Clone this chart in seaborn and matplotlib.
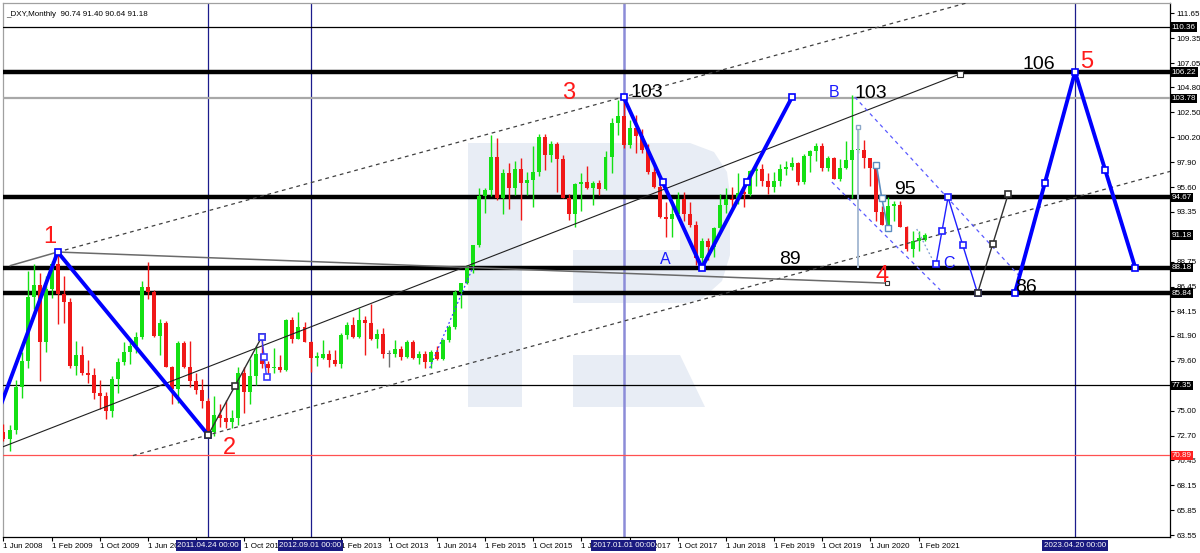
import numpy as np
import pandas as pd
import matplotlib
matplotlib.use("Agg")
import matplotlib.pyplot as plt
import matplotlib.transforms as mtransforms
from matplotlib.patches import Polygon
import seaborn as sns

sns.set_theme(style="white")
plt.rcParams["font.family"] = ["Liberation Sans", "DejaVu Sans"]

# monthly bars, Jun 2008 .. Mar 2021
months = pd.date_range("2008-06-01", "2021-03-01", freq="MS")
opens = [73.0, 72.4, 73.2, 77.2, 79.6, 85.5, 86.6, 81.3, 86.2, 88.5, 85.8, 85.0, 79.1, 80.1, 78.5, 78.3, 76.6, 76.4, 75.0,
         77.9, 79.5, 80.4, 81.0, 81.8, 86.4, 85.9, 81.9, 83.1, 79.0, 77.0, 81.2,
         79.0, 77.7, 76.9, 75.9, 73.0, 74.6, 74.3, 74.0, 74.3, 78.5, 76.7, 78.2,
         80.2, 79.3, 78.9, 79.0, 78.8, 83.4, 81.6, 82.7, 81.3, 79.9, 79.9, 80.2,
         79.7, 79.3, 82.0, 82.9, 81.8, 83.4, 83.1, 81.6, 82.1, 80.2, 80.2, 80.7,
         80.0, 81.3, 79.9, 80.2, 79.5, 80.4, 79.8, 81.5, 82.7, 85.9, 86.8, 88.3,
         90.3, 94.8, 95.3, 98.4, 94.6, 96.9, 95.5, 97.3, 96.0, 96.3, 97.0, 100.2,
         98.6, 99.6, 98.2, 94.6, 93.1, 95.9, 96.1, 95.5, 96.0, 95.4, 98.4, 101.5,
         102.2, 99.5, 101.1, 100.3, 99.0, 97.0, 95.6, 92.9, 92.7, 93.1, 94.5, 93.1,
         92.1, 89.1, 90.6, 90.1, 91.8, 94.0, 94.5, 94.4, 95.1, 95.0, 97.1, 97.3,
         96.2, 95.6, 96.2, 97.3, 97.5, 97.8, 96.1, 98.5, 98.9, 99.4, 97.4, 98.3,
         96.4, 97.4, 98.1, 99.0, 99.0, 98.3, 97.4, 93.3, 92.1, 93.9, 94.0, 91.9,
         89.9, 90.6, 90.74]
highs = [73.8, 73.7, 77.8, 80.4, 87.9, 88.5, 87.7, 87.4, 88.8, 89.6, 87.4, 85.4, 81.4, 81.0, 79.7, 78.9, 77.8, 76.7, 78.2,
         79.9, 81.3, 81.6, 82.3, 87.0, 88.7, 86.1, 83.5, 83.3, 79.1, 81.4, 81.4,
         81.4, 78.5, 77.9, 76.2, 76.4, 75.6, 76.0, 75.1, 79.0, 79.0, 79.8, 81.0,
         81.8, 79.6, 80.8, 80.1, 83.5, 83.6, 84.1, 83.2, 81.4, 80.4, 81.5, 80.6,
         80.6, 82.2, 83.2, 83.6, 84.5, 83.7, 84.8, 82.5, 82.6, 80.6, 81.5, 81.0,
         81.5, 81.5, 80.5, 80.5, 80.6, 81.0, 81.6, 82.9, 86.1, 86.8, 88.4, 90.3,
         95.5, 95.5, 100.4, 100.1, 97.3, 97.8, 98.0, 98.3, 97.0, 99.4, 100.5, 100.5,
         99.9, 99.8, 98.6, 95.0, 96.0, 96.9, 97.6, 96.2, 96.3, 98.9, 102.0, 103.6,
         103.9, 101.8, 102.3, 101.0, 99.6, 97.8, 96.2, 94.2, 94.0, 95.2, 95.2, 94.2,
         92.5, 90.9, 90.9, 91.9, 95.0, 95.5, 95.6, 96.9, 95.7, 97.2, 97.7, 97.7,
         96.9, 97.0, 97.7, 98.0, 98.4, 97.9, 98.7, 99.0, 99.7, 99.7, 98.5, 98.4,
         98.2, 99.9, 104.1, 100.9, 100.0, 98.3, 97.5, 93.9, 94.7, 94.3, 94.3, 92.0,
         91.6, 91.6, 91.40]
lows = [72.2, 71.3, 72.9, 76.2, 78.9, 84.4, 77.7, 80.4, 85.4, 83.0, 83.1, 78.9, 78.3, 78.3, 77.6, 76.1, 75.2, 74.2, 74.4,
        76.6, 79.2, 79.3, 80.3, 81.6, 85.3, 81.8, 80.1, 79.0, 75.6, 75.7, 78.9,
        77.2, 76.5, 75.3, 72.8, 72.7, 73.5, 73.4, 73.4, 73.7, 74.8, 75.6, 77.4,
        78.9, 78.1, 78.5, 78.6, 78.7, 81.2, 81.6, 81.3, 78.6, 79.1, 79.8, 79.0,
        79.1, 78.9, 81.6, 81.7, 81.7, 80.1, 81.5, 80.8, 79.9, 79.0, 80.0, 79.7,
        79.9, 79.8, 79.3, 78.9, 78.9, 79.7, 79.7, 81.3, 82.5, 84.5, 86.7, 87.7,
        90.1, 93.2, 94.8, 94.4, 93.1, 93.6, 94.9, 92.6, 94.9, 93.8, 96.6, 97.2,
        97.9, 95.2, 94.6, 92.6, 91.9, 93.4, 95.4, 94.0, 94.9, 95.3, 96.9, 100.4,
        99.2, 99.2, 98.8, 98.8, 96.8, 95.5, 92.8, 91.0, 91.0, 92.7, 92.5, 91.9,
        88.4, 88.2, 88.9, 89.2, 91.5, 93.2, 93.7, 94.1, 93.8, 94.8, 95.7, 95.7,
        95.0, 95.2, 95.7, 96.7, 97.2, 95.8, 95.9, 97.0, 98.0, 97.1, 97.1, 96.4,
        96.2, 97.3, 94.6, 98.8, 97.4, 95.7, 92.5, 92.1, 91.7, 92.5, 91.9, 89.7,
        89.2, 89.7, 90.64]
closes = [72.4, 73.2, 77.2, 79.6, 85.5, 86.6, 81.3, 86.2, 88.5, 85.8, 85.0, 79.1, 80.1, 78.5, 78.3, 76.6, 76.4, 75.0, 77.9,
          79.5, 80.4, 81.0, 81.8, 86.4, 85.9, 81.9, 83.1, 79.0, 77.0, 81.2, 79.0,
          77.7, 76.9, 75.9, 73.0, 74.6, 74.3, 74.0, 74.3, 78.5, 76.7, 78.2, 80.2,
          79.3, 78.9, 79.0, 78.8, 83.4, 81.6, 82.7, 81.3, 79.9, 79.95, 80.2, 79.7,
          79.3, 82.0, 82.9, 81.8, 83.4, 83.1, 81.6, 82.1, 80.2, 80.2, 80.7, 80.0,
          81.3, 79.9, 80.2, 79.5, 80.4, 79.8, 81.5, 82.7, 85.9, 86.8, 88.3, 90.3,
          94.8, 95.3, 98.4, 94.6, 96.9, 95.5, 97.3, 96.0, 96.3, 97.0, 100.2, 98.6,
          99.6, 98.2, 94.6, 93.1, 95.9, 96.1, 95.5, 96.0, 95.4, 98.4, 101.5, 102.2,
          99.5, 101.1, 100.3, 99.0, 97.0, 95.6, 92.9, 92.7, 93.1, 94.5, 93.1, 92.1,
          89.1, 90.6, 90.1, 91.8, 94.0, 94.5, 94.4, 95.1, 95.0, 97.1, 97.3, 96.2,
          95.6, 96.2, 97.3, 97.5, 97.8, 96.1, 98.5, 98.9, 99.4, 97.4, 98.3, 96.4,
          97.4, 98.1, 99.0, 99.05, 98.3, 97.4, 93.3, 92.1, 93.9, 94.0, 91.9, 89.9,
          90.6, 90.9, 91.18]

# horizontal levels
thick_levels = [106.22, 94.67, 88.18, 85.84]
thin_levels = [110.36, 77.35]
gray_level = 103.78
red_level = 70.89
box_levels = [110.36, 106.22, 103.78, 94.67, 91.18, 88.18, 85.84, 77.35]
y_ticks = [111.65, 109.35, 107.05, 104.80, 102.50, 100.20, 97.90, 95.60, 93.35, 91.05, 88.75,
           86.45, 84.15, 81.90, 79.60, 77.30, 75.00, 72.70, 70.45, 68.15, 65.85, 63.55]
hidden_ticks = [91.05, 77.30]

# vertical time lines
vline_labels = ["2011.04.24 00:00", "2012.09.01 00:00", "2017.01.01 00:00", "2023.04.20 00:00"]

# wave drawings (bar index, price)
wave1_m = [-0.6, 9, 34]
wave1_p = [75.3, 89.63, 72.77]
wave3_m = [103, 116, 131]
wave3_p = [103.92, 88.18, 103.92]
wave5_m = [168, 178, 188]
wave5_p = [85.84, 106.22, 88.18]
waveC_m = [154.9, 156.9, 161.8]
waveC_p = [88.5, 94.67, 85.84]
waveD_m = [161.8, 166.9]
waveD_p = [85.84, 94.98]
small_black_m = [34, 42.9]
small_black_p = [72.77, 81.8]
small_blue_m = [42.9, 43.7]
small_blue_p = [81.8, 78.1]
steel_m = [145.0, 145.9, 146.9]
steel_p = [97.65, 94.58, 91.82]
chan_solid_m = [-0.6, 158.9]
chan_solid_p = [71.57, 106.04]
line14_m = [1.1, 9, 146.7]
line14_p = [88.37, 89.63, 86.76]
desc_up_m = [141.4, 168.9]
desc_up_p = [103.92, 87.33]
desc_lo_m = [137.6, 155.6]
desc_lo_p = [96.08, 86.13]
dot_blue_m = [70.8, 78.0]
dot_blue_p = [78.94, 88.25]

green = "#14e014"
red = "#f01818"
blue = "#0000ff"
small = 5.8

df = pd.DataFrame({"month": months, "open": opens, "high": highs, "low": lows, "close": closes})
df["m"] = np.arange(len(df))

fig = plt.figure(figsize=(12, 5.53), dpi=100)
ax = fig.add_axes([3 / 1200, 16 / 553, 1167 / 1200, 534 / 553])
ax.set_xlim(-0.083, 193.77)
ax.set_ylim(63.366, 112.58)

# watermark logo (pixel outline -> axes fraction)
def px(pts):
    return [((x - 3) / 1167, (537 - y) / 534) for x, y in pts]

wm = "#e8edf5"
for shape in [
    [(468, 143), (522, 143), (522, 407), (468, 407)],
    [(522, 143), (690, 143), (714, 152), (727, 172), (730, 195), (730, 255), (722, 281), (702, 299),
     (686, 303), (573, 303), (573, 250), (680, 250), (680, 195), (522, 195)],
    [(573, 355), (680, 355), (705, 407), (573, 407)],
]:
    ax.add_patch(Polygon(px(shape), closed=True, transform=ax.transAxes, fc=wm, ec="none", zorder=0))

# levels
for v in thick_levels:
    ax.axhline(v, color="black", lw=3.2, zorder=3)
for v in thin_levels:
    ax.axhline(v, color="black", lw=0.9, zorder=3)
ax.axhline(gray_level, color="#a8a8a8", lw=1.6, zorder=3)
ax.axhline(red_level, color="#ff5050", lw=0.9, zorder=3)

# vertical lines
vline_m = []
for lab in vline_labels:
    d = pd.Timestamp(lab[:10].replace(".", "-"))
    vline_m.append((d.year - 2008) * 12 + d.month - 6)
for m, lab in zip(vline_m, vline_labels):
    if lab.startswith("2017"):
        ax.axvline(m, color="#8c8cd8", lw=1.8, zorder=2)
    else:
        ax.axvline(m, color="#1c1c8c", lw=0.9, zorder=2)

# candles
up = df[df.close > df.open]
dn = df[df.close < df.open]
fl = df[df.close == df.open]
for part, col in [(up, green), (dn, red), (fl, "#707070")]:
    ax.vlines(part.m, part.low, part.high, color=col, lw=1.0, zorder=4)
    h = (part.close - part.open).abs().clip(lower=0.12)
    ax.bar(part.m, h, bottom=part[["open", "close"]].min(axis=1), width=0.66, color=col, lw=0, zorder=4)

# channel lines
slope = (wave3_p[0] - wave1_p[1]) / (wave3_m[0] - wave1_m[1])
ext = np.array([wave1_m[1], 200])
ax.plot(ext, wave1_p[1] + slope * (ext - wave1_m[1]), color="#404040", lw=0.9, ls=(0, (3, 3)), zorder=5)
ext2 = np.array([21.5, 200])
ax.plot(ext2, wave1_p[2] + slope * (ext2 - wave1_m[2]), color="#404040", lw=0.9, ls=(0, (3, 3)), zorder=5)
ax.plot(chan_solid_m, chan_solid_p, color="#202020", lw=0.8, zorder=5)
ax.plot(chan_solid_m[-1:], chan_solid_p[-1:], "s", ms=4, mfc="white", mec="#303030", mew=0.8, zorder=6)
ax.plot(line14_m, line14_p, color="#6a6a6a", lw=1.1, zorder=5)
ax.plot(line14_m[-1:], line14_p[-1:], "s", ms=3.5, mfc="white", mec="#303030", mew=0.8, zorder=6)
ax.plot(desc_up_m, desc_up_p, color="#5a5aff", lw=0.9, ls=(0, (3, 3)), zorder=5)
ax.plot(desc_lo_m, desc_lo_p, color="#5a5aff", lw=0.9, ls=(0, (3, 3)), zorder=5)
ax.plot(dot_blue_m, dot_blue_p, color="#4040ff", lw=0.9, ls=(0, (1.5, 2)), zorder=5)


def wave(ms, ps, color, lw, mid=True, ends=True):
    sns.lineplot(x=ms, y=ps, sort=False, estimator=None, color=color, lw=lw, ax=ax, zorder=7)
    mx, my = [], []
    if ends:
        mx += list(ms)
        my += list(ps)
    if mid:
        mx += [(a + b) / 2 for a, b in zip(ms[:-1], ms[1:])]
        my += [(a + b) / 2 for a, b in zip(ps[:-1], ps[1:])]
    ax.plot(mx, my, "s", ms=4.5, mfc="white", mec=color, mew=1.2, zorder=8)


wave(wave1_m[1:], wave1_p[1:], blue, 2.8, mid=False)
sns.lineplot(x=wave1_m[:2], y=wave1_p[:2], color=blue, lw=2.8, ax=ax, zorder=7)
wave(wave3_m, wave3_p, blue, 2.8)
wave(wave5_m, wave5_p, blue, 2.8)
wave(waveC_m, waveC_p, "#2020ff", 1.0)
wave(waveD_m, waveD_p, "#303030", 1.0)
wave(small_black_m, small_black_p, "#303030", 1.0)
wave(small_blue_m, small_blue_p, "#3a3aff", 1.0)
ax.plot(steel_m, steel_p, color="#5a8cc0", lw=1.2, zorder=7)
ax.plot(steel_m, steel_p, "s", ms=4, mfc="white", mec="#5a8cc0", mew=1, zorder=8)
ax.vlines(142, 88.16, 101.15, color="#a8bcd4", lw=1.4, zorder=5)
ax.plot([142], [101.15], "s", ms=3.5, mfc="white", mec="#8ca8c8", mew=1, zorder=8)
ax.plot([151.7, 154.7], [91.75, 88.53], color="#7a9ad0", lw=0.9, ls=(0, (1.5, 2)), zorder=5)

# labels
for s, m, p in [("1", 7.7, 91.0), ("2", 37.6, 71.6), ("3", 93.8, 104.3), ("4", 145.9, 87.4), ("5", 180.0, 107.1)]:
    ax.text(m, p, s, color="#ff1a1a", fontsize=17, ha="center", va="center", zorder=9)
for s, m, p in [("103", 106.9, 104.3), ("103", 144.1, 104.2), ("106", 172.0, 106.9),
                ("95", 149.7, 95.4), ("89", 130.6, 88.9), ("86", 169.9, 86.35)]:
    ax.text(m, p, s, color="black", fontsize=14, ha="center", va="center", zorder=9)
for s, m, p in [("A", 109.9, 88.9), ("B", 137.96, 104.3), ("C", 157.0, 88.6)]:
    ax.text(m, p, s, color="#1a1aff", fontsize=11.5, ha="center", va="center", zorder=9)

ax.text(0.003, 0.985, "_DXY,Monthly  90.74 91.40 90.64 91.18", transform=ax.transAxes, fontsize=small,
        ha="left", va="top", color="black", zorder=9)

# axes
ax.yaxis.tick_right()
ax.set_yticks(y_ticks)
ax.set_yticklabels(["" if v in hidden_ticks else f"{v:.2f}" for v in y_ticks])
xt = list(range(0, len(df), 8))
ax.set_xticks(xt)
ax.set_xticklabels([f"1 {months[i]:%b %Y}" for i in xt])
for t in ax.get_xticklabels():
    t.set_ha("left")
ax.tick_params(axis="both", which="both", direction="out", length=3, width=0.8, labelsize=small, pad=1.5,
               colors="black", bottom=True, right=True, left=False)
ax.set_xlabel("")
ax.set_ylabel("")
for side in ["top", "left"]:
    ax.spines[side].set_color("#a0a0a0")
for side in ["bottom", "right"]:
    ax.spines[side].set_color("black")
for s in ax.spines.values():
    s.set_linewidth(0.9)

tr = mtransforms.blended_transform_factory(ax.transAxes, ax.transData)
for v in box_levels:
    ax.text(1.0015, v, f"{v:.2f}", transform=tr, fontsize=small, color="white", ha="left", va="center",
            bbox=dict(boxstyle="square,pad=0.15", fc="black", ec="none"), clip_on=False, zorder=10)
ax.text(1.0015, red_level, f"{red_level:.2f}", transform=tr, fontsize=small, color="white", ha="left",
        va="center", bbox=dict(boxstyle="square,pad=0.15", fc="#ff2020", ec="none"), clip_on=False, zorder=10)

trx = mtransforms.blended_transform_factory(ax.transData, ax.transAxes)
for m, lab in zip(vline_m, vline_labels):
    ax.text(m, -0.016, lab, transform=trx, fontsize=small, color="white", ha="center", va="center",
            bbox=dict(boxstyle="square,pad=0.2", fc="#1a1a80", ec="none"), clip_on=False, zorder=10)

fig.savefig("out.png", dpi=100, facecolor="white")
